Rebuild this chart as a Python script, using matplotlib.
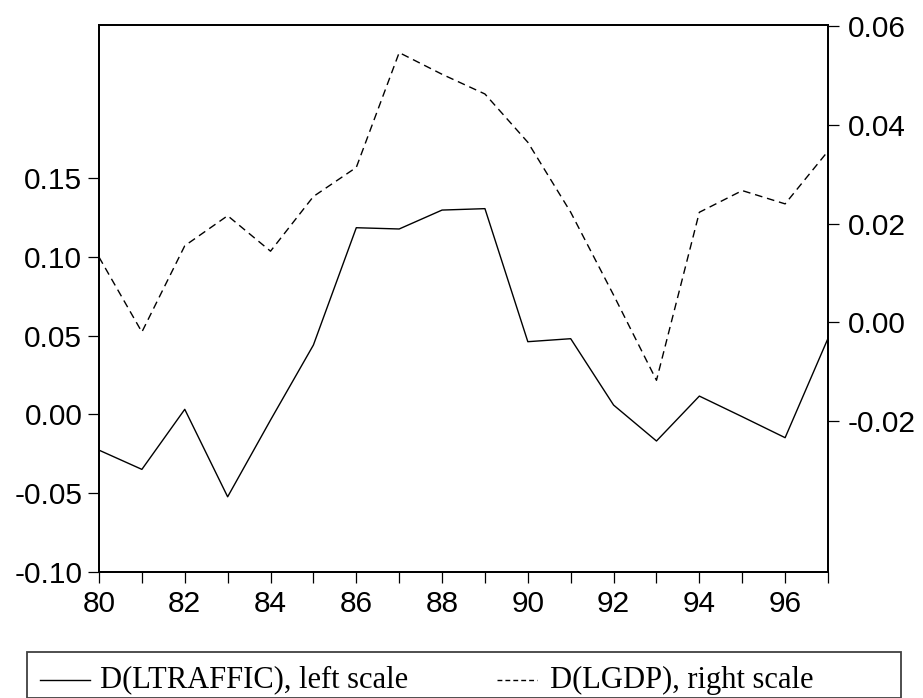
import matplotlib
matplotlib.use("Agg")
import matplotlib.pyplot as plt
from matplotlib.lines import Line2D
from matplotlib.patches import Rectangle

# annual data, 1980-1997 (two-digit years)
years = list(range(80, 98))
d_ltraffic = [-0.0227, -0.0349, 0.0032, -0.0523, -0.0036, 0.0440, 0.1184, 0.1176, 0.1296,
              0.1305, 0.0461, 0.0480, 0.0059, -0.0169, 0.0116, -0.0015, -0.0148, 0.0482]
d_lgdp = [0.0132, -0.0020, 0.0155, 0.0216, 0.0144, 0.0255, 0.0314, 0.0547, 0.0503,
          0.0463, 0.0365, 0.0223, 0.0055, -0.0118, 0.0223, 0.0267, 0.0240, 0.0347]

left_ticks = [-0.10, -0.05, 0.00, 0.05, 0.10, 0.15]
right_ticks = [-0.02, 0.00, 0.02, 0.04, 0.06]
x_labels = list(range(80, 97, 2))

plt.rcParams["font.family"] = ["Liberation Sans", "DejaVu Sans"]

fig = plt.figure(figsize=(9.23, 6.98), dpi=100)
ax = fig.add_axes([99 / 923, 1 - 572 / 698, (828 - 99) / 923, (572 - 25) / 698])
ax2 = ax.twinx()

ax.plot(years, d_ltraffic, color="black", lw=1.0)
l2, = ax2.plot(years, d_lgdp, color="black", lw=1.0)
l2.set_dashes([5.5, 3.5])

ax.set_xlim(80, 97)
ax.set_ylim(-0.10, 0.247)
ax2.set_ylim(-0.0507, 0.0603)

ax.set_yticks(left_ticks)
ax.set_yticklabels(["%.2f" % v for v in left_ticks])
ax2.set_yticks(right_ticks)
ax2.set_yticklabels(["%.2f" % v for v in right_ticks])
ax.set_xticks(years)
ax.set_xticklabels([str(y) if y in x_labels else "" for y in years])

for a in (ax, ax2):
    for s in a.spines.values():
        s.set_linewidth(1.3)
    a.tick_params(direction="out", length=8, width=0.9, labelsize=21.5, colors="black")
ax.tick_params(axis="y", pad=4)
ax.tick_params(axis="x", pad=5)
ax2.tick_params(axis="y", pad=6)

# legend box below the plot
fig.patches.append(Rectangle((27 / 923, 0), (901 - 27) / 923, (698 - 652) / 698,
                             transform=fig.transFigure, fill=False,
                             edgecolor="#404040", lw=1.3))
ly = 1 - 680 / 698
fig.lines.append(Line2D([40 / 923, 90 / 923], [ly, ly], transform=fig.transFigure,
                        color="black", lw=1.0))
fig.lines.append(Line2D([497 / 923, 537 / 923], [ly, ly], transform=fig.transFigure,
                        color="black", lw=1.0, dashes=[3.5, 2.2]))
fig.text(100 / 923, ly, "D(LTRAFFIC), left scale", family=["Liberation Serif"],
         fontsize=22, va="center", ha="left")
fig.text(550 / 923, ly, "D(LGDP), right scale", family=["Liberation Serif"],
         fontsize=22, va="center", ha="left")

fig.savefig("out.png", dpi=100)
